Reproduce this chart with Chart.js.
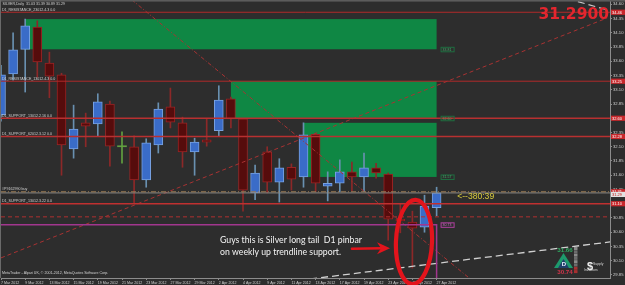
<!DOCTYPE html>
<html>
<head>
<meta charset="utf-8">
<script src="https://cdn.jsdelivr.net/npm/chart.js@4.4.1/dist/chart.umd.min.js"></script>
<style>
html,body{margin:0;padding:0;background:#2d2d2d;overflow:hidden}
canvas{display:block}
</style>
</head>
<body>
<canvas id="c" width="625" height="285"></canvas>
<script>
// ---------- data ----------
const dates = ['7 Mar 2012','8 Mar 2012','9 Mar 2012','12 Mar 2012','13 Mar 2012','14 Mar 2012','15 Mar 2012','16 Mar 2012',
  '19 Mar 2012','20 Mar 2012','21 Mar 2012','22 Mar 2012','23 Mar 2012','26 Mar 2012','27 Mar 2012','28 Mar 2012','29 Mar 2012',
  '30 Mar 2012','2 Apr 2012','3 Apr 2012','4 Apr 2012','5 Apr 2012','9 Apr 2012','10 Apr 2012','11 Apr 2012','12 Apr 2012',
  '13 Apr 2012','16 Apr 2012','17 Apr 2012','18 Apr 2012','19 Apr 2012','20 Apr 2012','23 Apr 2012','24 Apr 2012','25 Apr 2012',
  '26 Apr 2012','27 Apr 2012'];
const opens  = [32.66,33.38,33.81,34.20,33.57,33.36,32.06,32.52,32.50,32.85,32.10,32.10,31.52,32.13,32.80,32.52,32.01,32.22,32.38,
  32.94,32.59,31.29,32.01,31.48,31.74,31.57,32.32,31.41,31.46,31.66,31.57,31.73,31.62,30.83,30.78,30.69,31.03];
const highs  = [33.53,34.10,34.34,34.31,33.76,33.39,32.83,32.69,33.03,32.90,32.36,32.29,32.24,32.87,33.13,32.62,32.25,32.59,33.17,
  32.97,32.60,31.78,32.10,31.89,31.80,32.52,32.34,31.66,31.87,31.83,31.99,31.81,31.64,31.10,30.97,31.25,31.39];
const lows   = [32.55,33.27,33.06,33.32,32.96,31.60,31.90,32.10,32.29,31.76,31.81,31.11,31.39,31.99,32.43,31.74,31.60,32.11,32.29,
  32.43,30.97,31.17,31.29,31.13,31.34,31.39,31.31,31.15,31.31,31.32,31.31,31.55,30.46,30.59,29.97,30.60,30.89];
const closes = [33.36,33.80,34.22,33.59,33.34,32.13,32.41,32.46,32.89,32.11,32.10,31.52,32.17,32.76,32.53,32.01,32.18,32.18,32.92,
  32.59,31.34,31.64,31.48,31.73,31.53,32.31,31.46,31.46,31.66,31.57,31.73,31.64,30.83,30.80,30.67,31.06,31.29];

const yTickLabels = [34.60,34.35,34.10,33.85,33.60,33.35,33.10,32.85,32.60,32.35,32.10,31.85,31.60,31.35,31.10,30.85,30.60,30.35,30.10,29.85];
const yMin = 29.797, yMax = 34.675;
const xMin = 0, xMax = 50.33;

const levelPrices = [34.46, 33.25, 32.60, 32.28, 31.31, 31.29, 31.10, 30.87];
const levelNames  = ['D1_RESISTANCE_23012.4.3 0.0','D1_RESISTANCE_13012.4.3 0.0','D1_SUPPORT_13012.2.16 0.0',
  'D1_SUPPORT_62012.3.12 0.0','#P9162990 buy','','D1_SUPPORT_13012.3.22 0.0',''];
const taggedLevels = [0,1,2,3,4,6];
const bidPrice = 31.29;

const pendingPrice = 30.73;
const pendingBar = 36;

const zoneStartBar = [2, 19, 25];
const zoneEndBar   = [36, 36, 36];
const zoneTop      = [34.34, 33.25, 32.52];
const zoneBottom   = [33.81, 32.60, 31.57];

const trendFromBar   = [10.8, 0, 25.55, 46.8];
const trendFromPrice = [34.68, 30.15, 29.78, 34.70];
const trendToBar     = [38.9, 50.1, 50.33, 50.3];
const trendToPrice   = [29.76, 34.36, 30.43, 34.49];

const noteLines = ['Guys this is Silver long tail  D1 pinbar', 'on weekly up trendline support.'];
const noteBar = 18.1, notePrices = [30.41, 30.20];
const arrowFromBar = 29.0, arrowToBar = 32.15, arrowPrice = 30.32;
const circleBar = 34.13, circlePrice = 30.43, circleHalfBars = 1.49, circleHalfPrice = 0.74;
const timerText = '<--380:39', timerBar = 37.7, timerPrice = 31.22;
const bigPriceText = '31.2900';
const gaugeHigh = '31.66', gaugeLow = '30.74';
const copyright = 'MetaTrader - Alpari UK, \u00A9 2001-2012, MetaQuotes Software Corp.';
const last = opens.length - 1;
const titleText = 'SILVER,Daily  ' + [opens[last], highs[last], lows[last], closes[last]].map(v => v.toFixed(2)).join(' ');

// ---------- styles ----------
const candleStyle = {
  bull: {fill:'#3a6cc8', border:'#78a2e0', wick:'#6990b0'},
  bear: {fill:'#560c0c', border:'#982424', wick:'#8c2828'},
  doji: {fill:'#62a040', border:'#62a040', wick:'#62a040'}
};
const levelStyle = [
  {c:'#b02a2a', w:1, d:[]}, {c:'#b02a2a', w:1, d:[]}, {c:'#b83030', w:1.3, d:[]}, {c:'#b83030', w:1.3, d:[]},
  {c:'#9a7a52', w:1, d:[5,2,1,2]}, {c:'#8a8a8a', w:1, d:[]}, {c:'#c03030', w:1.5, d:[]}, {c:'#b03030', w:1, d:[4,3]}
];
const trendStyle = [
  {c:'#a83232', w:1, d:[4,2,1,2]}, {c:'#a83232', w:1, d:[4,3]}, {c:'#d0d0d0', w:1.3, d:[7,4]}, {c:'#c8c8c8', w:1.2, d:[7,4]}
];

function kind(i){ return closes[i] > opens[i] ? 'bull' : (closes[i] < opens[i] ? 'bear' : 'doji'); }

const wickData = dates.map((d,i) => ({x:i, y:[lows[i], highs[i]]}));
const bodyData = dates.map((d,i) => ({x:i, y:[opens[i], closes[i]]}));

function lineDs(points, st){
  return {type:'line', data:points, borderColor:st.c, borderWidth:st.w, borderDash:st.d,
    pointRadius:0, pointHoverRadius:0, fill:false, tension:0, order:0};
}

const datasets = [
  {type:'bar', data:wickData, grouped:false, barThickness:1, borderWidth:0,
    backgroundColor: c => candleStyle[kind(c.dataIndex)].wick, order:3},
  {type:'bar', data:bodyData, grouped:false, barThickness:9, borderSkipped:false, minBarLength:1,
    borderWidth: c => kind(c.dataIndex) === 'doji' ? 0 : 1,
    backgroundColor: c => candleStyle[kind(c.dataIndex)].fill,
    borderColor: c => candleStyle[kind(c.dataIndex)].border, order:2}
];
levelPrices.forEach((p,i) => datasets.push(lineDs([{x:xMin,y:p},{x:xMax,y:p}], levelStyle[i])));
datasets.push(lineDs([{x:xMin,y:pendingPrice},{x:pendingBar,y:pendingPrice},{x:pendingBar,y:yMin}], {c:'#a2368e', w:1.5, d:[]}));
trendFromBar.forEach((b,i) => datasets.push(lineDs([{x:b,y:trendFromPrice[i]},{x:trendToBar[i],y:trendToPrice[i]}], trendStyle[i])));

const FONT = '"Liberation Sans", Arial, sans-serif';

function tag(ctx, a, yPix, text, bg, fg){
  ctx.fillStyle = bg;
  ctx.fillRect(a.right + 1, yPix - 2.6, 14, 5.2);
  ctx.fillStyle = fg;
  ctx.font = '4px ' + FONT;
  ctx.textBaseline = 'middle'; ctx.textAlign = 'left';
  ctx.fillText(text, a.right + 2, yPix + 0.2);
}

const overlay = {
  id:'overlay',
  beforeDraw(chart){
    const {ctx, width, height} = chart;
    ctx.save(); ctx.fillStyle = '#2d2d2d'; ctx.fillRect(0,0,width,height); ctx.restore();
  },
  beforeDatasetsDraw(chart){
    const {ctx, chartArea:a, scales:{x, y}} = chart;
    ctx.save();
    ctx.beginPath(); ctx.rect(a.left, a.top, a.right - a.left, a.bottom - a.top); ctx.clip();
    ctx.fillStyle = '#0f8744';
    for (let i = 0; i < zoneTop.length; i++) {
      const x0 = x.getPixelForValue(zoneStartBar[i]), x1 = x.getPixelForValue(zoneEndBar[i]);
      const y0 = y.getPixelForValue(zoneTop[i]), y1 = y.getPixelForValue(zoneBottom[i]);
      ctx.fillRect(x0, y0, x1 - x0, y1 - y0);
    }
    ctx.restore();
  },
  afterDatasetsDraw(chart){
    const {ctx, chartArea:a, scales:{x, y}} = chart;
    ctx.save();
    ctx.font = '3.6px ' + FONT; ctx.fillStyle = '#d2d2d2'; ctx.textAlign = 'left';
    ctx.textBaseline = 'bottom';
    levelNames.forEach((n,i) => { if (n) ctx.fillText(n, a.left + 1, y.getPixelForValue(levelPrices[i]) - 0.8); });
    ctx.textBaseline = 'top';
    ctx.fillText(titleText, a.left + 1.5, 2.5);
    ctx.textBaseline = 'bottom';
    ctx.fillText(copyright, a.left + 1, a.bottom - 3);

    // zone price labels
    ctx.textBaseline = 'middle';
    zoneBottom.forEach((p,i) => {
      const xl = x.getPixelForValue(zoneEndBar[i]) + 4, yl = y.getPixelForValue(p);
      ctx.strokeStyle = '#1f6e40'; ctx.lineWidth = 1;
      ctx.strokeRect(xl + 0.5, yl - 2, 13, 4.5);
      ctx.fillStyle = '#43b06c'; ctx.font = '3.5px ' + FONT;
      ctx.fillText(p.toFixed(2), xl + 2, yl + 0.3);
    });
    {
      const xl = x.getPixelForValue(pendingBar) + 4, yl = y.getPixelForValue(pendingPrice);
      ctx.strokeStyle = '#b040a0'; ctx.strokeRect(xl + 0.5, yl - 2, 13, 4.5);
      ctx.fillStyle = '#d070c8'; ctx.fillText(pendingPrice.toFixed(2), xl + 2, yl + 0.3);
    }

    // timer text
    ctx.font = '9px ' + FONT; ctx.fillStyle = '#d8cc3c'; ctx.textBaseline = 'middle';
    ctx.fillText(timerText, x.getPixelForValue(timerBar), y.getPixelForValue(timerPrice), 37);

    // annotation text
    ctx.fillStyle = '#f4f4f4'; ctx.textBaseline = 'alphabetic';
    ctx.font = '9.6px Lato, "Open Sans", sans-serif';
    const nx = x.getPixelForValue(noteBar);
    ctx.fillText(noteLines[0], nx, y.getPixelForValue(notePrices[0]), 142);
    ctx.fillText(noteLines[1], nx, y.getPixelForValue(notePrices[1]), 121);

    // red arrow
    const ax0 = x.getPixelForValue(arrowFromBar), ax1 = x.getPixelForValue(arrowToBar), ay = y.getPixelForValue(arrowPrice);
    ctx.strokeStyle = '#e3141c'; ctx.fillStyle = '#e3141c'; ctx.lineWidth = 2.4; ctx.lineCap = 'round';
    ctx.beginPath(); ctx.moveTo(ax0, ay + 0.5); ctx.lineTo(ax1 - 8, ay); ctx.stroke();
    ctx.beginPath(); ctx.moveTo(ax1, ay); ctx.lineTo(ax1 - 13, ay - 6); ctx.lineTo(ax1 - 9, ay); ctx.lineTo(ax1 - 13, ay + 6); ctx.closePath(); ctx.fill();

    // red hand-drawn circle
    const cx = x.getPixelForValue(circleBar), cy = y.getPixelForValue(circlePrice);
    const rx = x.getPixelForValue(circleBar + circleHalfBars) - cx;
    const ry = y.getPixelForValue(circlePrice - circleHalfPrice) - cy;
    ctx.lineWidth = 4.2; ctx.strokeStyle = '#e3141c';
    ctx.beginPath(); ctx.ellipse(cx, cy, rx, ry, 0.04, 0, Math.PI * 2); ctx.stroke();
    ctx.restore();
  },
  afterDraw(chart){
    const {ctx, chartArea:a, scales:{y}} = chart;
    ctx.save();
    // window frame
    ctx.fillStyle = '#5c5c5c'; ctx.fillRect(0, 0, chart.width, 1.6);
    ctx.fillStyle = '#6a6a6a'; ctx.fillRect(0, 0, 1, a.bottom);
    // right price tags
    taggedLevels.forEach(i => tag(ctx, a, y.getPixelForValue(levelPrices[i]), levelPrices[i].toFixed(2), '#c8282c', '#ffffff'));
    tag(ctx, a, y.getPixelForValue(bidPrice) + 1.5, bidPrice.toFixed(2), '#e2e2e2', '#c01818');

    // big price text
    ctx.font = 'bold 15.5px "DejaVu Sans", sans-serif'; ctx.fillStyle = '#e4262e';
    ctx.textAlign = 'right'; ctx.textBaseline = 'alphabetic';
    ctx.fillText(bigPriceText, a.right - 1, 19);

    // bottom-right indicator
    const bx = a.right, by = a.bottom;
    ctx.textAlign = 'center'; ctx.textBaseline = 'middle';
    ctx.font = 'bold 6.2px ' + FONT;
    ctx.fillStyle = '#2fa860'; ctx.fillText(gaugeHigh, bx - 45, by - 28);
    ctx.fillStyle = '#1d9a6c';
    ctx.beginPath(); ctx.moveTo(bx - 56, by - 10); ctx.lineTo(bx - 37, by - 10); ctx.lineTo(bx - 46.5, by - 25); ctx.closePath(); ctx.fill();
    ctx.fillStyle = '#1f3f6a';
    ctx.beginPath(); ctx.moveTo(bx - 52, by - 10); ctx.lineTo(bx - 41, by - 10); ctx.lineTo(bx - 46.5, by - 19); ctx.closePath(); ctx.fill();
    ctx.fillStyle = '#e8f2ff'; ctx.font = 'bold 6px ' + FONT; ctx.fillText('D', bx - 46, by - 14);
    ctx.font = 'bold 6.2px ' + FONT;
    ctx.fillStyle = '#d0344a'; ctx.fillText(gaugeLow, bx - 45, by - 6);
    for (let k = 0; k < 8; k++) {
      ctx.fillStyle = k >= 6 ? '#a83030' : (k % 2 ? '#6c6c6c' : '#8a8a8a');
      ctx.fillRect(bx - 36, by - 31 + k * 3.3, 3.5, 3);
    }
    ctx.fillStyle = '#f0f0f0'; ctx.font = 'bold 11px ' + FONT; ctx.fillText('$', bx - 20, by - 11);
    ctx.font = '3.4px ' + FONT; ctx.fillStyle = '#d8d8d8'; ctx.textAlign = 'left';
    ctx.fillText('Supply', bx - 17, by - 14);
    ctx.fillText('Investors', bx - 26, by - 8);
    ctx.restore();
  }
};

new Chart(document.getElementById('c'), {
  type:'bar',
  data:{datasets},
  plugins:[overlay],
  options:{
    responsive:false, animation:false, devicePixelRatio:1, events:[],
    layout:{padding:{left:1, right:0, top:0, bottom:0}},
    plugins:{legend:{display:false}, tooltip:{enabled:false}, title:{display:false}},
    scales:{
      x:{
        type:'linear', min:xMin, max:xMax, offset:false,
        afterBuildTicks: s => { s.ticks = dates.map((d,i) => ({value:i})).filter(t => t.value % 2 === 0); },
        afterFit: s => { s.height = 7; s.paddingLeft = 0; s.paddingRight = 0; },
        ticks:{autoSkip:false, maxRotation:0, minRotation:0, align:'start', padding:1, color:'#cfcfcf',
          font:{family:FONT, size:3.6}, callback: v => (dates[v] !== undefined ? dates[v] : '')},
        grid:{display:true, drawOnChartArea:false, drawTicks:true, tickLength:2, color:'#8c8c8c', offset:false},
        border:{display:true, color:'#8c8c8c', width:1}
      },
      y:{
        type:'linear', position:'right', min:yMin, max:yMax,
        afterBuildTicks: s => { s.ticks = yTickLabels.map(v => ({value:v})); },
        afterFit: s => { s.width = 15; s.paddingTop = 0; s.paddingBottom = 0; },
        ticks:{autoSkip:false, padding:1, color:'#cfcfcf', font:{family:FONT, size:4.2}, callback: v => Number(v).toFixed(2)},
        grid:{display:true, drawOnChartArea:false, drawTicks:true, tickLength:2, color:'#8c8c8c'},
        border:{display:true, color:'#8c8c8c', width:1}
      }
    }
  }
});
</script>
</body>
</html>
